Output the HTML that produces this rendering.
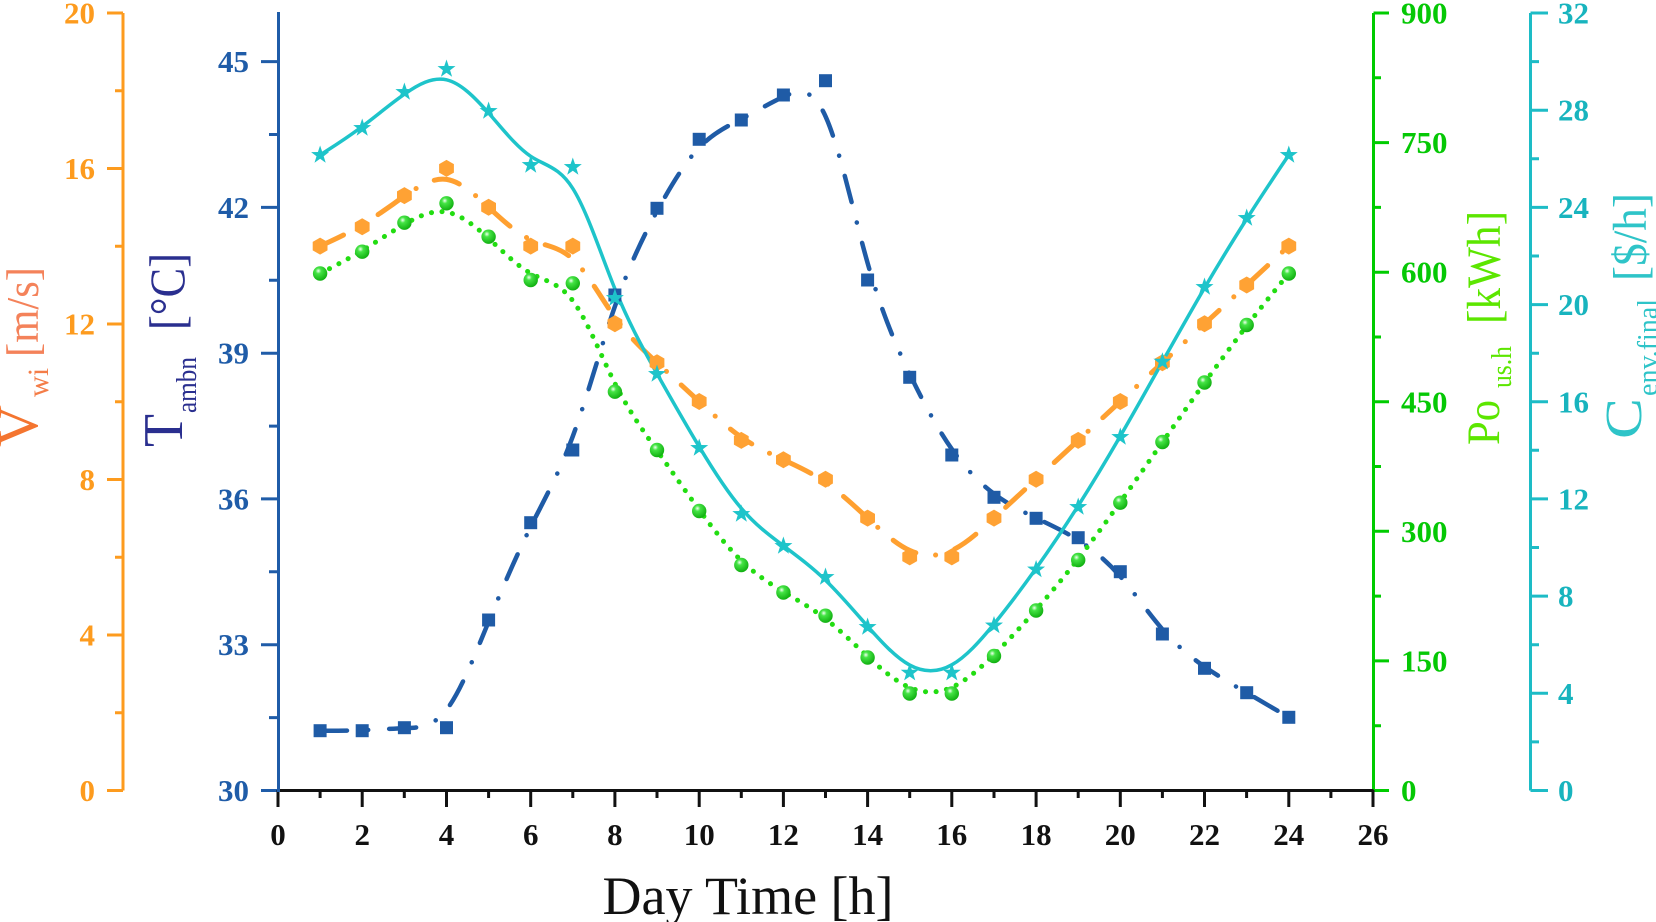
<!DOCTYPE html>
<html>
<head>
<meta charset="utf-8">
<style>
  html,body{margin:0;padding:0;background:#fff;}
  svg{display:block;}
  .tk{font-family:"Liberation Serif",serif;font-weight:bold;font-size:31px;}
  .tt{font-family:"Liberation Serif",serif;font-weight:normal;}
</style>
</head>
<body>
<svg width="1656" height="922" viewBox="0 0 1656 922" xmlns="http://www.w3.org/2000/svg">
<defs>
  <radialGradient id="gs" cx="0.38" cy="0.32" r="0.7">
    <stop offset="0" stop-color="#f2fff2"/>
    <stop offset="0.28" stop-color="#45e445"/>
    <stop offset="1" stop-color="#0fae0f"/>
  </radialGradient>
  <rect id="sq" x="-6.5" y="-6.5" width="13" height="13" fill="#1f5ba6"/>
  <polygon id="hx" points="0,-8.5 7.4,-4.25 7.4,4.25 0,8.5 -7.4,4.25 -7.4,-4.25" fill="#ffa234"/>
  <circle id="gb" cx="0" cy="0" r="7.2" fill="url(#gs)"/>
  <polygon id="st" points="0,-9.5 2.2,-3 9,-2.9 3.6,1.2 5.6,7.7 0,3.8 -5.6,7.7 -3.6,1.2 -9,-2.9 -2.2,-3" fill="#1ec4ca"/>
</defs>

<rect x="0" y="0" width="1656" height="922" fill="#ffffff"/>

<!-- ===== Axes ===== -->
<g stroke="#fd9b1e" stroke-width="3" fill="none">
  <path d="M123,13 V790.5"/>
  <path d="M107,790.5H123 M107,635H123 M107,479.5H123 M107,324H123 M107,168.5H123 M107,13H123"/>
  <path d="M115,712.75H123 M115,557.25H123 M115,401.75H123 M115,246.25H123 M115,90.75H123"/>
</g>
<g class="tk" fill="#fd9b1e" text-anchor="end">
  <text x="95" y="801">0</text>
  <text x="95" y="645.5">4</text>
  <text x="95" y="490">8</text>
  <text x="95" y="334.5">12</text>
  <text x="95" y="179">16</text>
  <text x="95" y="23.5">20</text>
</g>

<g stroke="#1f5ca8" stroke-width="3" fill="none">
  <path d="M278.5,12 V790.5"/>
  <path d="M261,790.5H278.5 M261,644.7H278.5 M261,498.9H278.5 M261,353.2H278.5 M261,207.4H278.5 M261,61.6H278.5"/>
  <path d="M269,717.6H278.5 M269,571.8H278.5 M269,426.1H278.5 M269,280.3H278.5 M269,134.5H278.5"/>
</g>
<g class="tk" fill="#1f5ca8" text-anchor="end">
  <text x="249" y="801">30</text>
  <text x="249" y="655.2">33</text>
  <text x="249" y="509.4">36</text>
  <text x="249" y="363.7">39</text>
  <text x="249" y="217.9">42</text>
  <text x="249" y="72.1">45</text>
</g>

<g stroke="#00cc00" stroke-width="3" fill="none">
  <path d="M1373.5,13 V792"/>
  <path d="M1373.5,790.5H1389 M1373.5,660.9H1389 M1373.5,531.3H1389 M1373.5,401.75H1389 M1373.5,272.2H1389 M1373.5,142.6H1389 M1373.5,13H1389"/>
  <path d="M1373.5,725.7H1381 M1373.5,596.1H1381 M1373.5,466.5H1381 M1373.5,337H1381 M1373.5,207.4H1381 M1373.5,77.8H1381"/>
</g>
<g class="tk" fill="#05c805" text-anchor="start">
  <text x="1401" y="801">0</text>
  <text x="1401" y="671.4">150</text>
  <text x="1401" y="541.8">300</text>
  <text x="1401" y="412.25">450</text>
  <text x="1401" y="282.7">600</text>
  <text x="1401" y="153.1">750</text>
  <text x="1401" y="23.5">900</text>
</g>

<g stroke="#1dbcc6" stroke-width="3" fill="none">
  <path d="M1530.5,13 V790.5"/>
  <path d="M1530.5,790.5H1548 M1530.5,693.3H1548 M1530.5,596.1H1548 M1530.5,498.9H1548 M1530.5,401.75H1548 M1530.5,304.6H1548 M1530.5,207.4H1548 M1530.5,110.2H1548 M1530.5,13H1548"/>
  <path d="M1530.5,741.9H1539 M1530.5,644.7H1539 M1530.5,547.5H1539 M1530.5,450.3H1539 M1530.5,353.2H1539 M1530.5,256H1539 M1530.5,158.8H1539 M1530.5,61.6H1539"/>
</g>
<g class="tk" fill="#18b4be" text-anchor="start">
  <text x="1558" y="801">0</text>
  <text x="1558" y="703.8">4</text>
  <text x="1558" y="606.6">8</text>
  <text x="1558" y="509.4">12</text>
  <text x="1558" y="412.25">16</text>
  <text x="1558" y="315.1">20</text>
  <text x="1558" y="217.9">24</text>
  <text x="1558" y="120.7">28</text>
  <text x="1558" y="23.5">32</text>
</g>

<g stroke="#111" stroke-width="3" fill="none">
  <path d="M278,790.5 H1373.5"/>
  <path d="M278,790V807 M362.2,790V807 M446.5,790V807 M530.7,790V807 M614.9,790V807 M699.2,790V807 M783.4,790V807 M867.6,790V807 M951.8,790V807 M1036.1,790V807 M1120.3,790V807 M1204.5,790V807 M1288.8,790V807 M1373,790V807"/>
  <path d="M320.1,790V798 M404.3,790V798 M488.6,790V798 M572.8,790V798 M657,790V798 M741.3,790V798 M825.5,790V798 M909.7,790V798 M994,790V798 M1078.2,790V798 M1162.4,790V798 M1246.6,790V798 M1330.9,790V798"/>
</g>
<path d="M278.5,788 V792" stroke="#1f5ca8" stroke-width="3"/>
<g class="tk" fill="#111" text-anchor="middle">
  <text x="278" y="845">0</text>
  <text x="362.2" y="845">2</text>
  <text x="446.5" y="845">4</text>
  <text x="530.7" y="845">6</text>
  <text x="614.9" y="845">8</text>
  <text x="699.2" y="845">10</text>
  <text x="783.4" y="845">12</text>
  <text x="867.6" y="845">14</text>
  <text x="951.8" y="845">16</text>
  <text x="1036.1" y="845">18</text>
  <text x="1120.3" y="845">20</text>
  <text x="1204.5" y="845">22</text>
  <text x="1288.8" y="845">24</text>
  <text x="1373" y="845">26</text>
</g>

<!-- ===== Titles ===== -->
<text class="tt" x="748" y="914" font-size="54" text-anchor="middle" fill="#111">Day Time [h]</text>

<g class="tt">
  <text transform="translate(37,447) rotate(-90)" font-size="58" fill="#f47530" textLength="42" lengthAdjust="spacingAndGlyphs">V</text>
  <text transform="translate(48,397) rotate(-90)" font-size="30" fill="#f47d48" textLength="29" lengthAdjust="spacingAndGlyphs">wi</text>
  <text transform="translate(38,357) rotate(-90)" font-size="46" fill="#f4825a" textLength="90" lengthAdjust="spacingAndGlyphs">[m/s]</text>
</g>
<g class="tt" fill="#2a2f8f">
  <text transform="translate(182,447) rotate(-90)" font-size="56" textLength="33" lengthAdjust="spacingAndGlyphs">T</text>
  <text transform="translate(196,413) rotate(-90)" font-size="28" textLength="56" lengthAdjust="spacingAndGlyphs">ambn</text>
  <text transform="translate(184,330) rotate(-90)" font-size="50" textLength="77" lengthAdjust="spacingAndGlyphs">[°C]</text>
</g>
<g class="tt" fill="#5ce600">
  <text transform="translate(1499,445) rotate(-90)" font-size="47" textLength="45" lengthAdjust="spacingAndGlyphs">Po</text>
  <text transform="translate(1511,388) rotate(-90)" font-size="28" textLength="42" lengthAdjust="spacingAndGlyphs">us.h</text>
  <text transform="translate(1500,324) rotate(-90)" font-size="48" textLength="113" lengthAdjust="spacingAndGlyphs">[kWh]</text>
</g>
<g class="tt" fill="#2ec4c8">
  <text transform="translate(1641,439) rotate(-90)" font-size="52" textLength="41" lengthAdjust="spacingAndGlyphs">C</text>
  <text transform="translate(1657,396) rotate(-90)" font-size="28" textLength="97" lengthAdjust="spacingAndGlyphs">env.final</text>
  <text transform="translate(1646,281) rotate(-90)" font-size="48" textLength="88" lengthAdjust="spacingAndGlyphs">[$/h]</text>
</g>

<!-- ===== Series ===== -->
<path fill="none" stroke="#1f5ba6" stroke-width="4.5" stroke-linecap="round" stroke-dasharray="27 21 0.1 21"
d="M320.1,730.7 L327.1,730.7
C334.2,730.7 348.2,730.7 362.2,730.2
C376.3,729.7 390.3,728.7 404.4,728.2
C418.4,727.7 432.4,727.7 446.5,709.8
C460.5,691.8 474.5,655.9 488.6,621.7
C502.6,587.6 516.7,555.1 530.7,526.8
C544.7,498.5 558.8,474.2 572.8,436.3
C586.9,398.3 600.9,346.7 614.9,306.4
C629.0,266.1 643.0,237.2 657.0,211.3
C671.1,185.3 685.1,162.3 699.2,147.6
C713.2,132.9 727.2,126.4 741.3,119.1
C755.3,111.7 769.4,103.3 783.4,96.8
C797.4,90.2 811.5,85.5 825.5,116.3
C839.5,147.1 853.6,213.6 867.6,263.0
C881.7,312.4 895.7,344.9 909.7,374.0
C923.8,403.2 937.8,429.1 951.8,449.1
C965.9,469.1 979.9,483.2 994.0,493.8
C1008.0,504.3 1022.0,511.3 1036.1,518.0
C1050.1,524.8 1064.2,531.2 1078.2,540.1
C1092.2,549.0 1106.3,560.4 1120.3,576.4
C1134.3,592.5 1148.4,613.2 1162.4,629.3
C1176.5,645.4 1190.5,656.9 1204.5,666.7
C1218.6,676.4 1232.6,684.6 1246.7,692.7
C1260.7,700.9 1274.7,709.1 1281.7,713.2
L1288.8,717.3"/>

<path fill="none" stroke="#ffa030" stroke-width="5" stroke-linecap="round" stroke-dasharray="26 20 0.1 20"
d="M320.1,246.1 L327.1,242.9
C334.2,239.6 348.2,233.2 362.2,224.8
C376.3,216.3 390.3,206.0 404.4,196.3
C418.4,186.5 432.4,177.5 446.5,179.4
C460.5,181.4 474.5,194.3 488.6,207.3
C502.6,220.2 516.7,233.2 530.7,239.6
C544.7,246.1 558.8,246.1 572.8,259.1
C586.9,272 600.9,297.9 614.9,317.3
C629.0,336.8 643.0,349.7 657.0,362.7
C671.1,375.6 685.1,388.6 699.2,401.5
C713.2,414.5 727.2,427.4 741.3,437.2
C755.3,446.9 769.4,453.3 783.4,459.8
C797.4,466.3 811.5,472.7 825.5,482.5
C839.5,492.2 853.6,505.1 867.6,518.1
C881.7,531.0 895.7,544.0 909.7,550.4
C923.8,556.9 937.8,556.9 951.8,550.4
C965.9,544.0 979.9,531.0 994.0,518.1
C1008.0,505.1 1022.0,492.2 1036.1,479.2
C1050.1,466.3 1064.2,453.3 1078.2,440.4
C1092.2,427.4 1106.3,414.5 1120.3,401.5
C1134.3,388.6 1148.4,375.6 1162.4,362.7
C1176.5,349.7 1190.5,336.8 1204.5,323.8
C1218.6,310.9 1232.6,297.9 1246.7,285.0
C1260.7,272.0 1274.7,259.1 1281.7,252.6
L1288.8,246.1"/>

<path fill="none" stroke="#22dd11" stroke-width="5" stroke-linecap="round" stroke-dasharray="0.1 10.5"
d="M320.1,273.5 L327.1,269.9
C334.2,266.2 348.2,259.0 362.2,250.5
C376.3,242.0 390.3,232.4 404.4,224.3
C418.4,216.2 432.4,209.8 446.5,212.1
C460.5,214.4 474.5,225.6 488.6,238.4
C502.6,251.1 516.7,265.6 530.7,273.3
C544.7,281.1 558.8,282.2 572.8,300.8
C586.9,319.4 600.9,355.6 614.9,383.4
C629.0,411.1 643.0,430.6 657.0,450.5
C671.1,470.3 685.1,490.7 699.2,509.8
C713.2,529.0 727.2,547.0 741.3,560.6
C755.3,574.2 769.4,583.3 783.4,591.8
C797.4,600.2 811.5,608.0 825.5,618.8
C839.5,629.6 853.6,643.6 867.6,656.5
C881.7,669.5 895.7,681.5 909.7,687.5
C923.8,693.5 937.8,693.5 951.8,687.3
C965.9,681.0 979.9,668.5 994.0,654.7
C1008.0,640.8 1022.0,625.7 1036.1,609.7
C1050.1,593.7 1064.2,576.8 1078.2,558.9
C1092.2,540.9 1106.3,521.8 1120.3,502.1
C1134.3,482.5 1148.4,462.2 1162.4,442.2
C1176.5,422.2 1190.5,402.3 1204.5,382.8
C1218.6,363.3 1232.6,344.2 1246.7,326.0
C1260.7,307.8 1274.7,290.7 1281.7,282.1
L1288.8,273.5"/>

<path fill="none" stroke="#1ec4ca" stroke-width="3.5" stroke-linecap="round"
d="M320.1,155 L327.1,150.5
C334.2,146 348.2,137 362.2,126.5
C376.3,116 390.3,104 404.4,94.2
C418.4,84.3 432.4,76.7 446.5,79.8
C460.5,83 474.5,97 488.6,113
C502.6,129 516.7,147 530.7,156.3
C544.7,165.7 558.8,166.3 572.8,188.5
C586.9,210.7 600.9,254.3 614.9,288.8
C629.0,323.3 643.0,348.7 657.0,373.7
C671.1,398.7 685.1,423.3 699.2,446.7
C713.2,470 727.2,492 741.3,508.3
C755.3,524.7 769.4,535.3 783.4,545.8
C797.4,556.3 811.5,566.7 825.5,580.2
C839.5,593.7 853.6,610.3 867.6,626.3
C881.7,642.2 895.7,657.5 909.7,665.1
C923.8,672.7 937.8,672.7 951.8,664.8
C965.9,657 979.9,641.2 994.0,624.0
C1008.0,606.8 1022.0,588.2 1036.1,568.4
C1050.1,548.7 1064.2,527.8 1078.2,505.8
C1092.2,483.7 1106.3,460.3 1120.3,436.1
C1134.3,411.9 1148.4,386.8 1162.4,361.8
C1176.5,336.8 1190.5,311.9 1204.5,288.0
C1218.6,264 1232.6,241 1246.7,219
C1260.7,197 1274.7,176 1281.7,165.5
L1288.8,155"/>

<!-- ===== Markers ===== -->
<g>
  <use href="#sq" x="320.1" y="730.7"/><use href="#sq" x="362.2" y="730.7"/><use href="#sq" x="404.4" y="727.7"/><use href="#sq" x="446.5" y="727.7"/>
  <use href="#sq" x="488.6" y="620"/><use href="#sq" x="530.7" y="522.7"/><use href="#sq" x="572.8" y="450"/><use href="#sq" x="614.9" y="295"/>
  <use href="#sq" x="657.0" y="208.3"/><use href="#sq" x="699.2" y="139.3"/><use href="#sq" x="741.3" y="120"/><use href="#sq" x="783.4" y="95"/>
  <use href="#sq" x="825.5" y="80.7"/><use href="#sq" x="867.6" y="280"/><use href="#sq" x="909.7" y="377.3"/><use href="#sq" x="951.8" y="455"/>
  <use href="#sq" x="994.0" y="497.3"/><use href="#sq" x="1036.1" y="518.3"/><use href="#sq" x="1078.2" y="537.7"/><use href="#sq" x="1120.3" y="571.7"/>
  <use href="#sq" x="1162.4" y="634"/><use href="#sq" x="1204.5" y="668.3"/><use href="#sq" x="1246.7" y="692.7"/><use href="#sq" x="1288.8" y="717.3"/>
</g>
<g>
  <use href="#hx" x="320.1" y="246.1"/><use href="#hx" x="362.2" y="226.7"/><use href="#hx" x="404.4" y="195.6"/><use href="#hx" x="446.5" y="168.4"/>
  <use href="#hx" x="488.6" y="207.3"/><use href="#hx" x="530.7" y="246.1"/><use href="#hx" x="572.8" y="246.1"/><use href="#hx" x="614.9" y="323.8"/>
  <use href="#hx" x="657.0" y="362.7"/><use href="#hx" x="699.2" y="401.5"/><use href="#hx" x="741.3" y="440.4"/><use href="#hx" x="783.4" y="459.8"/>
  <use href="#hx" x="825.5" y="479.2"/><use href="#hx" x="867.6" y="518.1"/><use href="#hx" x="909.7" y="556.9"/><use href="#hx" x="951.8" y="556.9"/>
  <use href="#hx" x="994.0" y="518.1"/><use href="#hx" x="1036.1" y="479.2"/><use href="#hx" x="1078.2" y="440.4"/><use href="#hx" x="1120.3" y="401.5"/>
  <use href="#hx" x="1162.4" y="362.7"/><use href="#hx" x="1204.5" y="323.8"/><use href="#hx" x="1246.7" y="285.0"/><use href="#hx" x="1288.8" y="246.1"/>
</g>
<g>
  <use href="#gb" x="320.1" y="273.5"/><use href="#gb" x="362.2" y="251.7"/><use href="#gb" x="404.4" y="222.7"/><use href="#gb" x="446.5" y="203.3"/>
  <use href="#gb" x="488.6" y="236.7"/><use href="#gb" x="530.7" y="280"/><use href="#gb" x="572.8" y="283.3"/><use href="#gb" x="614.9" y="391.7"/>
  <use href="#gb" x="657.0" y="450"/><use href="#gb" x="699.2" y="511"/><use href="#gb" x="741.3" y="565"/><use href="#gb" x="783.4" y="592.5"/>
  <use href="#gb" x="825.5" y="615.7"/><use href="#gb" x="867.6" y="657.5"/><use href="#gb" x="909.7" y="693.5"/><use href="#gb" x="951.8" y="693.5"/>
  <use href="#gb" x="994.0" y="656"/><use href="#gb" x="1036.1" y="610.5"/><use href="#gb" x="1078.2" y="560"/><use href="#gb" x="1120.3" y="502.7"/>
  <use href="#gb" x="1162.4" y="442"/><use href="#gb" x="1204.5" y="382.5"/><use href="#gb" x="1246.7" y="325"/><use href="#gb" x="1288.8" y="273.5"/>
</g>
<g>
  <use href="#st" x="320.1" y="155"/><use href="#st" x="362.2" y="128"/><use href="#st" x="404.4" y="92"/><use href="#st" x="446.5" y="69"/>
  <use href="#st" x="488.6" y="111"/><use href="#st" x="530.7" y="165"/><use href="#st" x="572.8" y="167"/><use href="#st" x="614.9" y="298"/>
  <use href="#st" x="657.0" y="374"/><use href="#st" x="699.2" y="448"/><use href="#st" x="741.3" y="514"/><use href="#st" x="783.4" y="546"/>
  <use href="#st" x="825.5" y="577"/><use href="#st" x="867.6" y="627"/><use href="#st" x="909.7" y="672.7"/><use href="#st" x="951.8" y="672.7"/>
  <use href="#st" x="994.0" y="625.5"/><use href="#st" x="1036.1" y="569.5"/><use href="#st" x="1078.2" y="507"/><use href="#st" x="1120.3" y="437"/>
  <use href="#st" x="1162.4" y="361.7"/><use href="#st" x="1204.5" y="287"/><use href="#st" x="1246.7" y="218"/><use href="#st" x="1288.8" y="155"/>
</g>
</svg>
</body>
</html>
